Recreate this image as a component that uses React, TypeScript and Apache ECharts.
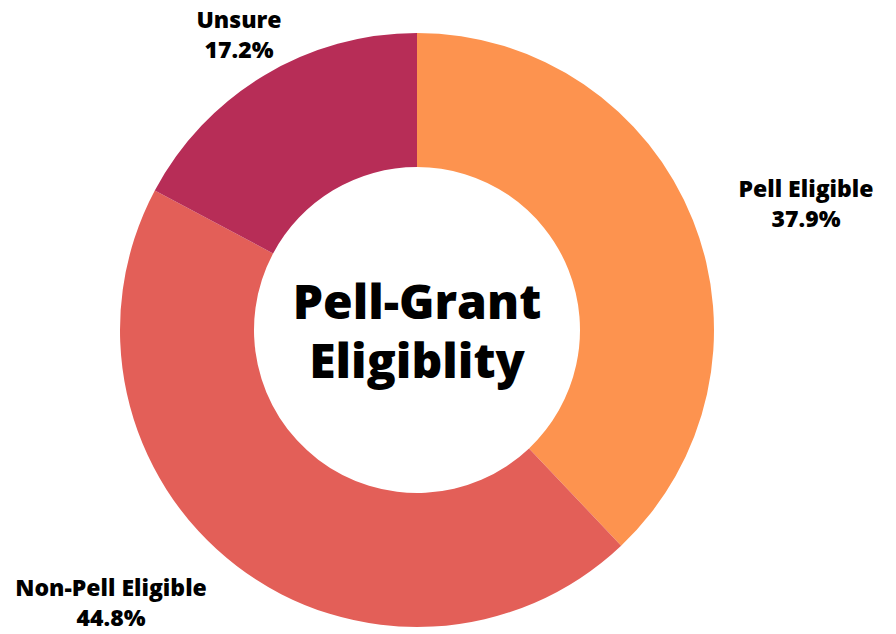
import React, { useEffect, useRef } from "react";
import * as echarts from "echarts";

const categories = ["Pell Eligible", "Non-Pell Eligible", "Unsure"];
const values = [37.9, 44.8, 17.2];
const colors = ["#FD934F", "#E35F58", "#B72D57"];
const centerTitle = "Pell-Grant\nEligiblity";

// label anchor positions (layout only)
const labelPos = [
  [806, 203],
  [111, 602],
  [239, 34],
];

export default function App() {
  const ref = useRef<HTMLDivElement>(null);
  useEffect(() => {
    if (!ref.current) return;
    const chart = echarts.init(ref.current, null, { renderer: "svg" });
    chart.setOption({
      animation: false,
      backgroundColor: "#ffffff",
      graphic: [
        {
          type: "text",
          x: 417,
          y: 330,
          style: {
            text: centerTitle,
            fontFamily: "Open Sans",
            fontWeight: 800,
            fontSize: 48,
            lineHeight: 59,
            fill: "#000000",
            textAlign: "center",
            textVerticalAlign: "middle",
          },
        },
      ],
      series: [
        {
          type: "pie",
          center: [417, 330],
          radius: [163, 297],
          startAngle: 90,
          clockwise: true,
          avoidLabelOverlap: false,
          itemStyle: { borderWidth: 0 },
          label: {
            show: true,
            formatter: "{b}\n{c}%",
            fontFamily: "Open Sans",
            fontWeight: 800,
            fontSize: 23,
            lineHeight: 30,
            color: "#000000",
            align: "center",
          },
          labelLine: { show: false },
          labelLayout: (params: any) => {
            const p = labelPos[params.dataIndex];
            return { x: p[0], y: p[1], align: "center", verticalAlign: "middle" };
          },
          emphasis: { disabled: true },
          data: categories.map((name, i) => ({
            name,
            value: values[i],
            itemStyle: { color: colors[i] },
          })),
        },
      ],
    });
    return () => chart.dispose();
  }, []);
  return (
    <div
      ref={ref}
      style={{ position: "fixed", left: 0, top: 0, width: 896, height: 634 }}
    />
  );
}
